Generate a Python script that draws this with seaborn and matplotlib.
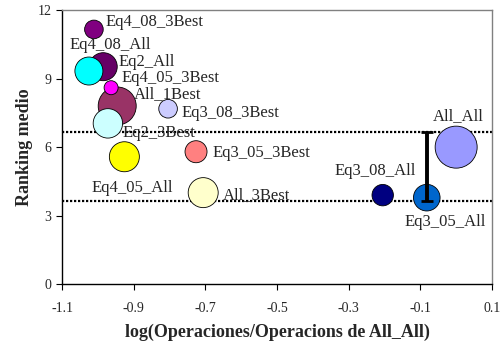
import matplotlib
matplotlib.use("Agg")
import matplotlib.pyplot as plt
import seaborn as sns
import pandas as pd

# data (drawing order matters for overlaps)
names = ["Eq4_08_3Best", "All_1Best", "Eq2_All", "Eq4_08_All", "Eq4_05_3Best",
         "Eq2_3Best", "Eq4_05_All", "Eq3_08_3Best", "Eq3_05_3Best", "All_3Best",
         "Eq3_08_All", "Eq3_05_All", "All_All"]
log_ops = [-1.011, -0.946, -0.985, -1.025, -0.963,
           -0.972, -0.926, -0.804, -0.726, -0.706,
           -0.205, -0.082, 0.0]
ranking = [11.15, 7.8, 9.52, 9.33, 8.6,
           7.04, 5.58, 7.68, 5.8, 4.01,
           3.9, 3.79, 6.0]
radius_px = [9.3, 19, 14, 14, 7,
             14.7, 15, 9.3, 11, 15,
             10.7, 13.3, 21]
colors = ["#800080", "#993366", "#660066", "#00FFFF", "#FF00FF",
          "#CCFFFF", "#FFFF00", "#CCCCFF", "#FF8080", "#FFFFCC",
          "#000080", "#0066CC", "#9999FF"]
# label offsets (points) and alignment
label_dx = [8.4, 12.2, 10.8, 15.7, 7.2, 10.6, 5.9, 9.4, 12.0, 14.0, -5.7, 13.2, 1.2]
label_dy = [5.5, 8.6, 3.6, 18.7, 6.8, -6.8, -22.8, -3.3, -0.7, -1.7, 17.5, -17.3, 22.5]
label_ha = ["left", "left", "left", "center", "left", "left", "center", "left",
            "left", "left", "center", "center", "center"]

ref_low = 3.66
ref_high = 6.66
bar_x = -0.082

df = pd.DataFrame({"name": names, "x": log_ops, "y": ranking,
                   "area": [(1.44 * r) ** 2 for r in radius_px]})

sns.set_style("ticks")
plt.rcParams["font.family"] = ["Liberation Serif", "DejaVu Serif"]

fig = plt.figure(figsize=(5.01, 3.47), dpi=100)
ax = fig.add_axes([0.1238, 0.1807, 0.8582, 0.7905])

ax.axhline(ref_low, color="black", lw=1.6, ls=(0, (1, 0.8)), zorder=1)
ax.axhline(ref_high, color="black", lw=1.6, ls=(0, (1, 0.8)), zorder=1)

sns.scatterplot(data=df, x="x", y="y", hue="name", palette=dict(zip(names, colors)),
                size="area", sizes=(min(df["area"]), max(df["area"])),
                edgecolor="black", linewidth=0.6, alpha=1, legend=False, ax=ax, zorder=2)

ax.errorbar([bar_x], [(ref_low + ref_high) / 2], yerr=[(ref_high - ref_low) / 2],
            fmt="none", ecolor="black", elinewidth=2.8, capsize=4.5, capthick=2.0, zorder=3)

for i, n in enumerate(names):
    ax.annotate(n, (log_ops[i], ranking[i]), xytext=(label_dx[i], label_dy[i]),
                textcoords="offset points", ha=label_ha[i], va="center",
                fontsize=12, zorder=4)

ax.set_xlim(-1.1, 0.1)
ax.set_ylim(0, 12)
ax.set_xticks([-1.1, -0.9, -0.7, -0.5, -0.3, -0.1, 0.1])
ax.set_xticklabels(["-1.1", "-0.9", "-0.7", "-0.5", "-0.3", "-0.1", "0.1"])
ax.set_yticks([0, 3, 6, 9, 12])
ax.tick_params(axis="both", labelsize=10, direction="out", length=4, width=0.8, color="black")
ax.tick_params(axis="x", pad=9)
ax.set_xlabel("log(Operaciones/Operacions de All_All)", fontsize=13, fontweight="bold", labelpad=6)
ax.set_ylabel("Ranking medio", fontsize=13, fontweight="bold", labelpad=3)

for side in ["left", "bottom"]:
    ax.spines[side].set_color("black")
    ax.spines[side].set_linewidth(1.0)
for side in ["top", "right"]:
    ax.spines[side].set_visible(True)
    ax.spines[side].set_color("#808080")
    ax.spines[side].set_linewidth(1.0)

fig.savefig("out.png", dpi=100)
